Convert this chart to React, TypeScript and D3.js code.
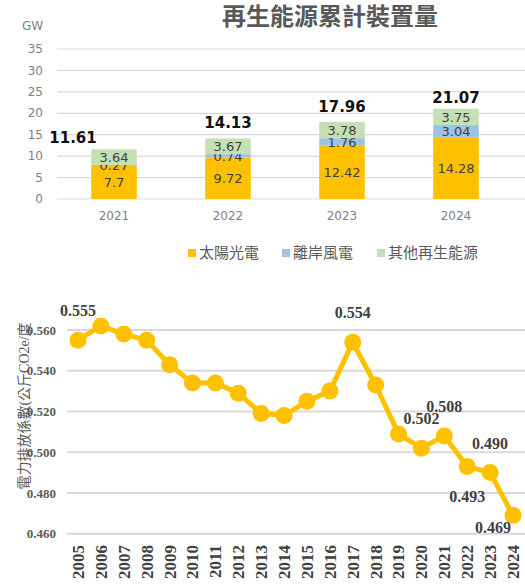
import React from 'react';
import * as d3 from 'd3';

// top chart: cumulative renewable capacity (GW)
const capYears = ['2021', '2022', '2023', '2024'];
const solar = [7.7, 9.72, 12.42, 14.28];
const offshoreWind = [0.27, 0.74, 1.76, 3.04];
const otherRenew = [3.64, 3.67, 3.78, 3.75];
const capTotals = [11.61, 14.13, 17.96, 21.07];
const capTicks = [0, 5, 10, 15, 20, 25, 30, 35];
const seriesNames = ['太陽光電', '離岸風電', '其他再生能源'];

// bottom chart: electricity emission factor
const efYears = [
  '2005', '2006', '2007', '2008', '2009', '2010', '2011', '2012', '2013', '2014',
  '2015', '2016', '2017', '2018', '2019', '2020', '2021', '2022', '2023', '2024',
];
const efValues = [
  0.555, 0.562, 0.558, 0.555, 0.543, 0.534, 0.534, 0.529, 0.519, 0.518,
  0.525, 0.530, 0.554, 0.533, 0.509, 0.502, 0.508, 0.493, 0.490, 0.469,
];
const efLabelled = ['2005', '2017', '2020', '2021', '2022', '2023', '2024'];
const efTicks = [0.46, 0.48, 0.5, 0.52, 0.54, 0.56];

const COLORS = ['#FFC000', '#9DC3E6', '#C5E0B4'];
const SANS = '"DejaVu Sans", "Noto Sans CJK TC", sans-serif';
const SERIF = '"Liberation Serif", "Noto Sans CJK TC", serif';

const App: React.FC = () => {
  // ---- top chart scales
  const x1 = d3.scaleBand<string>().domain(capYears).range([57, 513]).paddingInner(0.6).paddingOuter(0.3);
  const y1 = d3.scaleLinear().domain([0, 35]).range([199, 49]);

  const rows = capYears.map((yr, i) => ({ yr, s0: solar[i], s1: offshoreWind[i], s2: otherRenew[i] }));
  const stacked = d3.stack<any>().keys(['s0', 's1', 's2'])(rows);

  // ---- bottom chart scales
  const x2 = d3.scalePoint<string>().domain(efYears).range([78, 513]);
  const y2 = d3.scaleLinear().domain([0.46, 0.56]).range([533.7, 330]);
  const line = d3.line<number>()
    .x((_, i) => x2(efYears[i]) as number)
    .y(d => y2(d));

  const labelOffset = (yr: string): [number, number] => {
    if (yr === '2022') return [0, 36];
    if (yr === '2024') return [-20, 18];
    return [0, -24];
  };

  const legendX = [188, 282, 377];

  return (
    <svg width={525} height={584} style={{ position: 'absolute', left: 0, top: 0, background: '#fff' }}>
      {/* title */}
      <text x={330} y={25} textAnchor="middle" fontFamily={SANS} fontWeight="bold" fontSize={24} fill="#595959">
        再生能源累計裝置量
      </text>
      <text x={22} y={30} fontFamily={SANS} fontSize={12} fill="#7f7f7f">GW</text>

      {/* grid + y ticks */}
      {capTicks.map(t => (
        <g key={t}>
          <line x1={57} x2={525} y1={y1(t)} y2={y1(t)} stroke="#d9d9d9" strokeWidth={1.2} />
          <text x={43} y={y1(t)} dy="0.35em" textAnchor="end" fontFamily={SANS} fontSize={12} fill="#7f7f7f">{t}</text>
        </g>
      ))}

      {/* stacked bars */}
      {stacked.map((layer, li) => (
        <g key={li}>
          {layer.map((d, i) => (
            <g key={i}>
              <rect x={x1(capYears[i])} width={x1.bandwidth()} y={y1(d[1])} height={y1(d[0]) - y1(d[1])} fill={COLORS[li]} />
              <text
                x={(x1(capYears[i]) as number) + x1.bandwidth() / 2}
                y={(y1(d[0]) + y1(d[1])) / 2}
                dy="0.38em"
                textAnchor="middle"
                fontFamily={SANS}
                fontSize={13}
                fill="#404040"
              >
                {[solar, offshoreWind, otherRenew][li][i]}
              </text>
            </g>
          ))}
        </g>
      ))}

      {/* totals */}
      {capTotals.map((t, i) => (
        <text
          key={i}
          x={(x1(capYears[i]) as number) + x1.bandwidth() / 2 + (i === 0 ? -41 : 0)}
          y={y1(t) - (i === 0 || i === 3 ? 6 : 10)}
          textAnchor="middle"
          fontFamily={SANS}
          fontWeight="bold"
          fontSize={15}
          fill="#111"
        >
          {t.toFixed(2)}
        </text>
      ))}

      {/* x labels */}
      {capYears.map(yr => (
        <text key={yr} x={(x1(yr) as number) + x1.bandwidth() / 2} y={220} textAnchor="middle" fontFamily={SANS} fontSize={12} fill="#7f7f7f">
          {yr}
        </text>
      ))}

      {/* legend */}
      {seriesNames.map((n, i) => (
        <g key={n}>
          <rect x={legendX[i]} y={249} width={8} height={8} fill={COLORS[i]} />
          <text x={legendX[i] + 11} y={253} dy="0.36em" fontFamily={SANS} fontSize={15} fill="#595959">{n}</text>
        </g>
      ))}

      {/* ---- bottom chart ---- */}
      {efTicks.map(t => (
        <g key={t}>
          <line x1={67} x2={525} y1={y2(t)} y2={y2(t)} stroke="#d9d9d9" strokeWidth={2} />
          <text x={56} y={y2(t)} dy="0.35em" textAnchor="end" fontFamily={SERIF} fontWeight="bold" fontSize={13} fill="#595959">
            {t.toFixed(3)}
          </text>
        </g>
      ))}

      <text
        transform="translate(24,406) rotate(-90)"
        textAnchor="middle"
        dy="0.35em"
        fontFamily={SERIF}
        fontSize={14}
        fill="#595959"
      >
        電力排放係數(公斤CO2e/度
      </text>

      <path d={line(efValues) || ''} fill="none" stroke="#FFC000" strokeWidth={5} strokeLinejoin="round" />
      {efValues.map((v, i) => (
        <circle key={i} cx={x2(efYears[i])} cy={y2(v)} r={8.5} fill="#FFC000" />
      ))}

      {efYears.map((yr, i) => {
        if (!efLabelled.includes(yr)) return null;
        const [dx, dy] = labelOffset(yr);
        return (
          <text
            key={yr}
            x={(x2(yr) as number) + dx}
            y={y2(efValues[i]) + dy}
            textAnchor="middle"
            fontFamily={SERIF}
            fontWeight="bold"
            fontSize={16}
            fill="#404040"
          >
            {efValues[i].toFixed(3)}
          </text>
        );
      })}

      {efYears.map(yr => (
        <text
          key={yr}
          transform={`translate(${x2(yr)},545) rotate(-90)`}
          textAnchor="end"
          dy="0.35em"
          fontFamily={SERIF}
          fontWeight="bold"
          fontSize={17}
          fill="#404040"
        >
          {yr}
        </text>
      ))}
    </svg>
  );
};

export default App;
